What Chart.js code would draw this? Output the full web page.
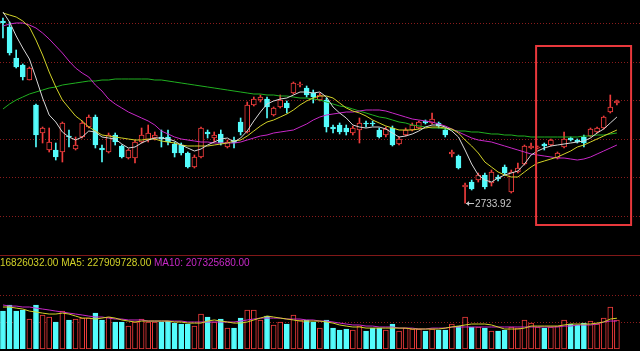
<!DOCTYPE html>
<html>
<head>
<meta charset="utf-8">
<script src="https://cdn.jsdelivr.net/npm/chart.js@4/dist/chart.umd.min.js"></script>
<style>
  html, body { margin: 0; padding: 0; background: #000; }
  #wrap { position: relative; width: 640px; height: 351px; overflow: hidden; background: #000; }
  #kline { position: absolute; left: 0; top: 0; }
  #sep { position: absolute; left: 0; top: 255px; width: 640px; height: 1px; background: #801818; }
  #vol { position: absolute; left: 0; top: 256px; }
  #volText { position: absolute; left: 0; top: 257px; font: 10px "Liberation Sans", Arial, sans-serif; line-height: 11px; white-space: pre; }
</style>
</head>
<body>
<div id="wrap">
  <canvas id="kline" width="640" height="255"></canvas>
  <div id="sep"></div>
  <canvas id="vol" width="640" height="95"></canvas>
  <div id="volText"><span style="color:#d2d228">16826032.00 MA5: 227909728.00</span> <span style="color:#c828c8">MA10: 207325680.00</span></div>
</div>
<script>
// daily candles, oldest first
const opens = [
  2916, 2910, 2879, 2872, 2857, 2832, 2804, 2787, 2787, 2785,
  2801, 2788, 2800, 2810, 2820, 2789, 2785, 2802, 2791, 2779,
  2779, 2795, 2797, 2799, 2800, 2800, 2793, 2792, 2784, 2770,
  2780, 2805, 2799, 2803, 2790, 2797, 2815, 2805, 2832, 2837,
  2838, 2822, 2830, 2834, 2844, 2852, 2849, 2844, 2837, 2837,
  2810, 2812, 2809, 2804, 2807, 2814, 2814, 2807, 2802, 2809,
  2793, 2802, 2807, 2809, 2816, 2814, 2814, 2807, 2783, 2781,
  2750, 2755, 2757, 2762, 2754, 2760, 2770, 2745, 2765, 2773,
  2789, 2789, 2793, 2792, 2779, 2790, 2799, 2797, 2800, 2801,
  2805, 2809, 2825, 2834
];
const closes = [
  2914, 2884, 2870, 2860, 2869, 2802, 2809, 2795, 2780, 2814,
  2800, 2792, 2814, 2820, 2792, 2787, 2802, 2795, 2780, 2787,
  2795, 2802, 2804, 2802, 2798, 2795, 2784, 2784, 2770, 2780,
  2809, 2803, 2802, 2794, 2795, 2794, 2805, 2832, 2838, 2840,
  2830, 2829, 2837, 2829, 2854, 2853, 2842, 2840, 2842, 2810,
  2808, 2805, 2805, 2809, 2814, 2813, 2813, 2800, 2808, 2792,
  2798, 2807, 2812, 2815, 2814, 2818, 2811, 2802, 2785, 2769,
  2752, 2748, 2762, 2750, 2765, 2758, 2764, 2765, 2769, 2791,
  2791, 2790, 2791, 2797, 2784, 2798, 2797, 2795, 2794, 2808,
  2809, 2820, 2830, 2836
];
const highs = [
  2919, 2915, 2887, 2873, 2870, 2833, 2810, 2809, 2794, 2815,
  2807, 2800, 2816, 2822, 2822, 2792, 2804, 2804, 2792, 2788,
  2797, 2809, 2812, 2805, 2807, 2807, 2795, 2794, 2785, 2782,
  2810, 2807, 2805, 2807, 2797, 2800, 2819, 2835, 2840, 2842,
  2840, 2830, 2842, 2836, 2855, 2855, 2851, 2847, 2844, 2839,
  2812, 2814, 2812, 2811, 2819, 2816, 2816, 2809, 2810, 2811,
  2800, 2809, 2814, 2816, 2817, 2824, 2815, 2809, 2787, 2782,
  2754, 2757, 2764, 2764, 2767, 2762, 2772, 2767, 2774, 2792,
  2794, 2791, 2794, 2798, 2785, 2805, 2800, 2798, 2802, 2809,
  2810, 2821, 2842, 2837
];
const lows = [
  2899, 2882, 2869, 2857, 2857, 2790, 2794, 2785, 2777, 2775,
  2790, 2787, 2799, 2809, 2789, 2775, 2784, 2792, 2779, 2778,
  2774, 2794, 2795, 2797, 2790, 2792, 2780, 2782, 2769, 2769,
  2779, 2799, 2795, 2792, 2789, 2789, 2802, 2804, 2831, 2835,
  2819, 2821, 2829, 2824, 2843, 2850, 2840, 2834, 2836, 2805,
  2804, 2803, 2802, 2802, 2794, 2810, 2811, 2799, 2800, 2791,
  2792, 2801, 2806, 2808, 2813, 2813, 2809, 2800, 2780, 2768,
  2733.92, 2747, 2755, 2748, 2751, 2756, 2762, 2744, 2764, 2772,
  2788, 2788, 2787, 2791, 2778, 2789, 2796, 2794, 2790, 2800,
  2804, 2808, 2824, 2832
];

// moving averages
const ma5 = [
  2925, 2915, 2901, 2889, 2878, 2859, 2839, 2822, 2815, 2805,
  2800, 2797, 2800, 2806, 2805, 2800, 2799, 2798, 2793, 2789,
  2790, 2794, 2797, 2799, 2799, 2798, 2796, 2792, 2789, 2786,
  2788, 2792, 2795, 2798, 2799, 2795, 2799, 2806, 2816, 2825,
  2833, 2836, 2838, 2839, 2842, 2845, 2845, 2844, 2845, 2840,
  2830, 2824, 2819, 2812, 2810, 2809, 2810, 2810, 2808, 2804,
  2800, 2801, 2803, 2806, 2810, 2812, 2812, 2810, 2806, 2800,
  2787, 2773, 2762, 2757, 2755, 2759, 2762, 2764, 2766, 2773,
  2782, 2786, 2789, 2791, 2792, 2793, 2794, 2795, 2796, 2799,
  2804, 2808, 2814, 2820
];
const ma10 = [
  2924, 2922, 2920, 2916, 2910, 2897, 2882, 2865, 2850, 2837,
  2829, 2821, 2816, 2810, 2806, 2802, 2801, 2800, 2799, 2798,
  2797, 2797, 2798, 2798, 2796, 2795, 2794, 2792, 2791, 2791,
  2791, 2791, 2792, 2793, 2794, 2796, 2797, 2801, 2806, 2811,
  2815, 2817, 2820, 2823, 2827, 2832, 2836, 2839, 2841, 2841,
  2839, 2834, 2829, 2826, 2824, 2821, 2817, 2814, 2811, 2809,
  2807, 2807, 2807, 2808, 2809, 2810, 2810, 2809, 2808, 2804,
  2797, 2791, 2784, 2775, 2770, 2765, 2762, 2760, 2760, 2765,
  2770, 2774, 2776, 2778, 2780, 2783, 2786, 2790, 2792, 2795,
  2798, 2801, 2804, 2807
];
const ma20 = [
  2911, 2913, 2914, 2914, 2912, 2909, 2904, 2898, 2891, 2884,
  2876, 2869, 2864, 2860, 2852, 2846, 2838, 2833, 2829, 2825,
  2822, 2819, 2816, 2812, 2806, 2803, 2800, 2798, 2797, 2796,
  2795, 2795, 2794, 2794, 2794, 2794, 2795, 2797, 2799, 2801,
  2802, 2804, 2805, 2806, 2807, 2810, 2813, 2817, 2820, 2822,
  2823, 2824, 2825, 2825, 2826, 2827, 2827, 2827, 2826, 2824,
  2822, 2820, 2818, 2817, 2816, 2815, 2813, 2811, 2808, 2805,
  2802, 2799, 2797, 2796, 2795, 2793, 2791, 2789, 2787, 2785,
  2783, 2782, 2781, 2780, 2779, 2779, 2778, 2777, 2778, 2780,
  2783, 2786, 2789, 2792
];
const ma60 = [
  2828, 2833, 2837, 2840, 2843, 2845, 2847, 2849, 2850, 2852,
  2853, 2854, 2855, 2856, 2856, 2857, 2857, 2858, 2858, 2858,
  2858, 2858, 2858, 2857, 2857, 2856, 2855, 2854, 2853, 2852,
  2851, 2850, 2849, 2848, 2847, 2846, 2845, 2844, 2843, 2843,
  2842, 2842, 2841, 2841, 2840, 2839, 2839, 2838, 2837, 2835,
  2833, 2831, 2830, 2828, 2826, 2824, 2822, 2820, 2819, 2817,
  2815, 2814, 2812, 2811, 2810, 2809, 2809, 2808, 2807, 2806,
  2806, 2805, 2805, 2804, 2803, 2803, 2802, 2802, 2801, 2801,
  2800, 2800, 2800, 2800, 2800, 2800, 2800, 2800, 2801, 2801,
  2802, 2802, 2803, 2804
];

// volume in millions
const volumes = [
  281, 326, 281, 289, 222, 326, 252, 237, 200, 281,
  215, 222, 229, 229, 266, 215, 237, 200, 200, 170,
  200, 222, 200, 200, 200, 207, 192, 185, 185, 170,
  259, 237, 200, 222, 155, 155, 229, 289, 289, 215,
  244, 178, 200, 185, 252, 215, 215, 200, 155, 215,
  155, 141, 148, 141, 170, 133, 155, 155, 141, 185,
  133, 155, 148, 148, 133, 148, 141, 141, 185, 170,
  237, 163, 163, 155, 133, 133, 141, 163, 155, 215,
  192, 163, 155, 163, 170, 215, 185, 178, 192, 207,
  185, 229, 311, 215
];
const volMa5 = [
  311, 311, 303, 296, 281, 274, 266, 259, 259, 266,
  259, 244, 229, 229, 222, 229, 237, 229, 215, 207,
  200, 207, 207, 207, 207, 207, 200, 200, 192, 192,
  192, 207, 215, 207, 200, 192, 192, 200, 215, 229,
  244, 237, 229, 222, 215, 207, 207, 207, 207, 200,
  192, 178, 170, 163, 163, 155, 155, 155, 155, 155,
  155, 155, 148, 148, 148, 148, 148, 155, 163, 170,
  178, 185, 185, 185, 178, 163, 148, 148, 148, 155,
  170, 170, 170, 170, 170, 178, 185, 185, 185, 185,
  192, 200, 222, 228
];
const volMa10 = [
  326, 318, 318, 311, 311, 303, 296, 289, 281, 274,
  266, 259, 252, 244, 237, 237, 229, 222, 222, 215,
  215, 215, 207, 207, 207, 207, 207, 207, 200, 200,
  200, 200, 200, 200, 200, 200, 207, 215, 222, 229,
  229, 229, 229, 222, 222, 222, 215, 215, 207, 207,
  200, 192, 185, 178, 178, 170, 170, 163, 163, 163,
  155, 155, 155, 148, 148, 155, 155, 155, 163, 163,
  163, 163, 163, 163, 163, 163, 163, 163, 163, 163,
  163, 163, 163, 163, 163, 170, 170, 178, 178, 178,
  185, 200, 207, 207
];

const priceGrid = [2721, 2759.6, 2798.2, 2836.8, 2875.4, 2914];
const volGrid = [200, 400];
// highlighted range: candle index from/to, price high/low
const boxRange = { from: 80.76, to: 95.15, high: 2891, low: 2712 };

const UP = '#f03c3c';
const DOWN = '#54fcfc';
const idx = opens.map((_, i) => i);
const isUp = idx.map(i => closes[i] >= opens[i]);

function xAxis() {
  return { type: 'linear', display: false, offset: false, bounds: 'data', min: -0.45, max: 96.5 };
}

function line(values, color) {
  return {
    type: 'line',
    data: idx.map(i => ({ x: i, y: values[i] })),
    borderColor: color,
    borderWidth: 1,
    pointRadius: 0,
    tension: 0,
    order: 0
  };
}

function gridPlugin(levels) {
  return {
    id: 'dotGrid',
    beforeDatasetsDraw(chart) {
      const ctx = chart.ctx;
      const y = chart.scales.y;
      ctx.save();
      ctx.strokeStyle = '#8a1c1c';
      ctx.lineWidth = 1;
      ctx.setLineDash([1, 2]);
      levels.forEach(v => {
        const py = Math.round(y.getPixelForValue(v)) + 0.5;
        ctx.beginPath();
        ctx.moveTo(0, py);
        ctx.lineTo(chart.width, py);
        ctx.stroke();
      });
      ctx.restore();
    }
  };
}

const marks = {
  id: 'marks',
  afterDatasetsDraw(chart) {
    const ctx = chart.ctx;
    const x = chart.scales.x, y = chart.scales.y;
    ctx.save();
    // red box
    ctx.strokeStyle = '#e8383c';
    ctx.lineWidth = 2;
    const l = x.getPixelForValue(boxRange.from), r = x.getPixelForValue(boxRange.to);
    const t = y.getPixelForValue(boxRange.high), b = y.getPixelForValue(boxRange.low);
    ctx.strokeRect(l, t, r - l, b - t);
    // lowest low label
    let lo = 0;
    lows.forEach((v, i) => { if (v < lows[lo]) lo = i; });
    const px = x.getPixelForValue(lo);
    const py = Math.round(y.getPixelForValue(lows[lo])) + 0.5;
    ctx.strokeStyle = '#c8c8c8';
    ctx.fillStyle = '#c8c8c8';
    ctx.lineWidth = 1;
    ctx.beginPath();
    ctx.moveTo(px + 1, py);
    ctx.lineTo(px + 9, py);
    ctx.stroke();
    ctx.beginPath();
    ctx.moveTo(px + 1, py);
    ctx.lineTo(px + 4, py - 2.5);
    ctx.lineTo(px + 4, py + 2.5);
    ctx.closePath();
    ctx.fill();
    ctx.font = '10px "Liberation Sans", Arial, sans-serif';
    ctx.textBaseline = 'middle';
    ctx.fillText(lows[lo].toFixed(2), px + 10, py + 0.5);
    ctx.restore();
  }
};

const common = {
  responsive: false,
  animation: false,
  devicePixelRatio: 1,
  events: [],
  plugins: { legend: { display: false }, tooltip: { enabled: false } }
};

new Chart(document.getElementById('kline'), {
  type: 'bar',
  data: {
    datasets: [
      line(ma5, '#d8d8d8'),
      line(ma10, '#d2d228'),
      line(ma20, '#c828c8'),
      line(ma60, '#20b020'),
      {
        type: 'bar',
        data: idx.map(i => ({ x: i, y: [opens[i], closes[i]] })),
        backgroundColor: idx.map(i => isUp[i] ? '#000' : DOWN),
        borderColor: idx.map(i => isUp[i] ? UP : DOWN),
        borderWidth: 1,
        borderSkipped: false,
        barThickness: 5,
        grouped: false,
        order: 1
      },
      {
        type: 'bar',
        data: idx.map(i => ({ x: i, y: [lows[i], highs[i]] })),
        backgroundColor: idx.map(i => isUp[i] ? UP : DOWN),
        barThickness: 1,
        grouped: false,
        order: 2
      }
    ]
  },
  options: Object.assign({}, common, {
    scales: {
      x: xAxis(),
      y: { type: 'linear', display: false, min: 2682, max: 2937 }
    }
  }),
  plugins: [gridPlugin(priceGrid), marks]
});

new Chart(document.getElementById('vol'), {
  type: 'bar',
  data: {
    datasets: [
      line(volMa5, '#d2d228'),
      line(volMa10, '#c828c8'),
      {
        type: 'bar',
        data: idx.map(i => ({ x: i, y: volumes[i] })),
        backgroundColor: idx.map(i => isUp[i] ? '#000' : DOWN),
        borderColor: idx.map(i => isUp[i] ? UP : DOWN),
        borderWidth: 1,
        borderSkipped: false,
        barThickness: 5,
        grouped: false,
        order: 1
      }
    ]
  },
  options: Object.assign({}, common, {
    layout: { padding: { bottom: 2 } },
    scales: {
      x: xAxis(),
      y: { type: 'linear', display: false, min: 0, max: 689 }
    }
  }),
  plugins: [gridPlugin(volGrid)]
});
</script>
</body>
</html>
